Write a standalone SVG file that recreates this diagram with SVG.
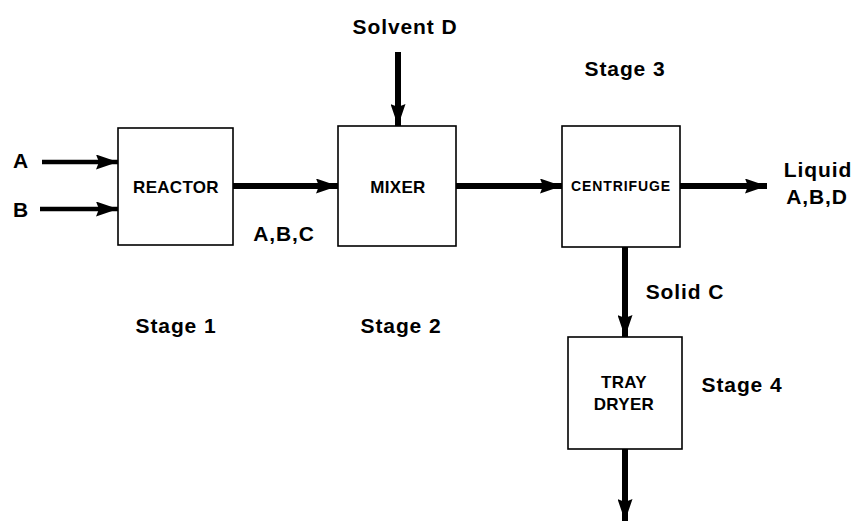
<svg xmlns="http://www.w3.org/2000/svg" width="854" height="521" viewBox="0 0 854 521">
<style>
text{font-family:"Liberation Sans",Arial,sans-serif;font-weight:bold;fill:#000}
.lbl{font-size:21px;letter-spacing:0.9px;text-anchor:middle}
.box{fill:#fff;stroke:#000;stroke-width:1.6}
.in{font-size:17px;text-anchor:middle;letter-spacing:0.3px}
.cn{stroke:#000;stroke-width:6;fill:none;marker-end:url(#ah)}
</style>
<defs>
<marker id="ah" markerUnits="userSpaceOnUse" markerWidth="22" markerHeight="15" refX="22" refY="7.5" orient="auto">
<polygon points="0,0 22,7.5 0,15 3,7.5" fill="#000"/>
</marker>
</defs>
<rect width="854" height="521" fill="#fff"/>
<g id="connectors">
<line class="cn" x1="42" y1="162" x2="118" y2="162" style="stroke-width:4.5"/>
<line class="cn" x1="40" y1="209" x2="118" y2="209" style="stroke-width:4.5"/>
<line class="cn" x1="233" y1="186" x2="338" y2="186"/>
<line class="cn" x1="398" y1="52" x2="398" y2="126"/>
<line class="cn" x1="456" y1="186" x2="562" y2="186"/>
<line class="cn" x1="680" y1="186" x2="767" y2="186"/>
<line class="cn" x1="625" y1="247" x2="625" y2="337"/>
<line class="cn" x1="625" y1="449" x2="625" y2="521"/>
</g>
<g id="reactor">
<rect class="box" x="118" y="128" width="115" height="117"/>
<text class="in" x="176" y="193">REACTOR</text>
</g>
<g id="mixer">
<rect class="box" x="338" y="126" width="118" height="120"/>
<text class="in" x="398" y="193">MIXER</text>
</g>
<g id="centrifuge">
<rect class="box" x="562" y="126" width="118" height="121"/>
<text class="in" x="621" y="191" style="font-size:14px;letter-spacing:0.9px">CENTRIFUGE</text>
</g>
<g id="traydryer">
<rect class="box" x="568" y="337" width="114" height="112"/>
<text class="in" x="624" y="388">TRAY</text>
<text class="in" x="624" y="410">DRYER</text>
</g>
<g id="labels">
<text class="lbl" x="21" y="168">A</text>
<text class="lbl" x="21" y="217">B</text>
<text class="lbl" x="284" y="241">A,B,C</text>
<text class="lbl" x="405" y="34">Solvent D</text>
<text class="lbl" x="625" y="76">Stage 3</text>
<text class="lbl" x="818" y="177">Liquid</text>
<text class="lbl" x="817" y="204">A,B,D</text>
<text class="lbl" x="685" y="299">Solid C</text>
<text class="lbl" x="742" y="392">Stage 4</text>
<text class="lbl" x="176" y="333">Stage 1</text>
<text class="lbl" x="401" y="333">Stage 2</text>
</g>
</svg>
